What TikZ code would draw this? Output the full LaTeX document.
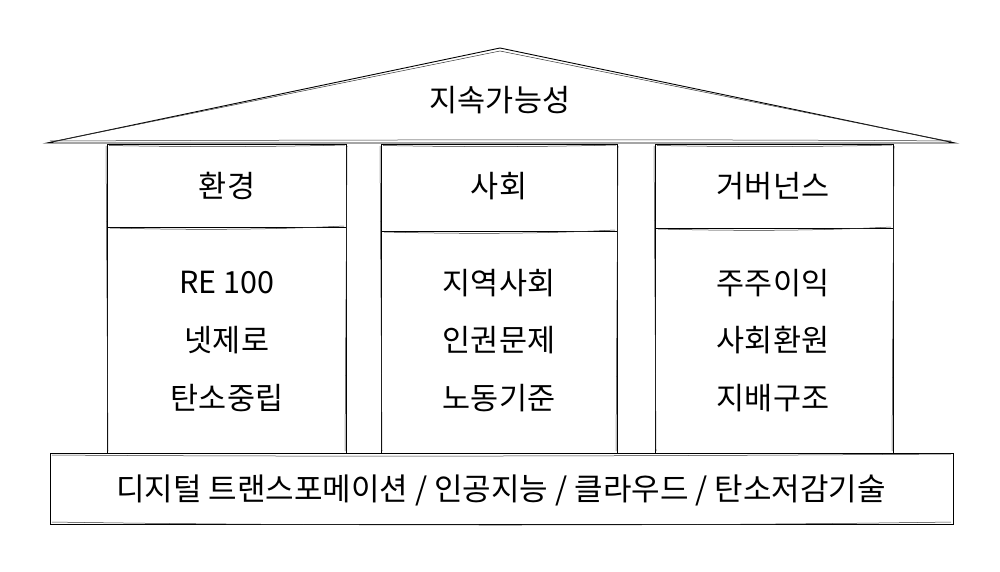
\documentclass[tikz,border=0pt]{standalone}
\usepackage{fontspec}
\setmainfont{Noto Sans CJK KR}
\begin{document}
\begin{tikzpicture}[x=1pt,y=-1pt,
  sk/.style={line width=0.9pt,black},
  sk2/.style={line width=0.5pt,black!80},
  lbl/.style={font=\fontsize{30.5}{33}\selectfont,inner sep=0pt,anchor=center}]
\useasboundingbox (0,0) rectangle (1000,572);
% roof
\coordinate (rl) at (47,143);
\coordinate (ra) at (500,48);
\coordinate (rr) at (955,143);
\draw[sk] (rl) -- (ra) -- (rr) -- cycle;
\draw[sk2] ([shift={(4,-1)}]rl) -- ([shift={(0,3)}]ra) -- ([shift={(-3,-1)}]rr);
\draw[sk2] ([shift={(3,-2)}]rl) .. controls (300,140) and (700,139) .. ([shift={(-4,-2)}]rr);
% columns
\foreach \n/\xa/\xb/\yd in {L/107/346/227, M/381/617/231, R/655/893/228}{
  \draw[sk] (\xa,144) rectangle (\xb,453);
  \draw[sk] (\xa,\yd) -- (\xb,\yd);
  \draw[sk2] (\xa+3,\yd+1) .. controls (\xa+80,\yd+3) and (\xb-80,\yd+3) .. (\xb-2,\yd-1);
  \draw[sk2] (\xa+2,145.5) .. controls (\xa+80,147) and (\xb-80,147) .. (\xb-1,145);
  \draw[sk2] (\xb+1,146) -- (\xb-1,451);
  \draw[sk2] (\xa-1,146) -- (\xa+1,451);
}
% base
\draw[sk] (50,453) rectangle (953,524);
\draw[sk2] (52,455) .. controls (300,457) and (700,456) .. (951,454);
\draw[sk2] (52,522) .. controls (300,526) and (700,526) .. (951,522);
% texts
\node[lbl] (top) at (500,100) {지속가능성};
\node[lbl] (hL) at (227,186) {환경};
\node[lbl] (hM) at (499,186) {사회};
\node[lbl] (hR) at (773,186) {거버넌스};
\node[lbl] (l1) at (227,283) {RE 100};
\node[lbl] (l2) at (227,340) {넷제로};
\node[lbl] (l3) at (227,398) {탄소중립};
\node[lbl] (m1) at (499,283) {지역사회};
\node[lbl] (m2) at (499,340) {인권문제};
\node[lbl] (m3) at (499,398) {노동기준};
\node[lbl] (r1) at (773,283) {주주이익};
\node[lbl] (r2) at (773,340) {사회환원};
\node[lbl] (r3) at (773,398) {지배구조};
\node[lbl,font=\fontsize{31}{34}\selectfont] (base) at (501,490) {디지털 트랜스포메이션 / 인공지능 / 클라우드 / 탄소저감기술};
\end{tikzpicture}
\end{document}
